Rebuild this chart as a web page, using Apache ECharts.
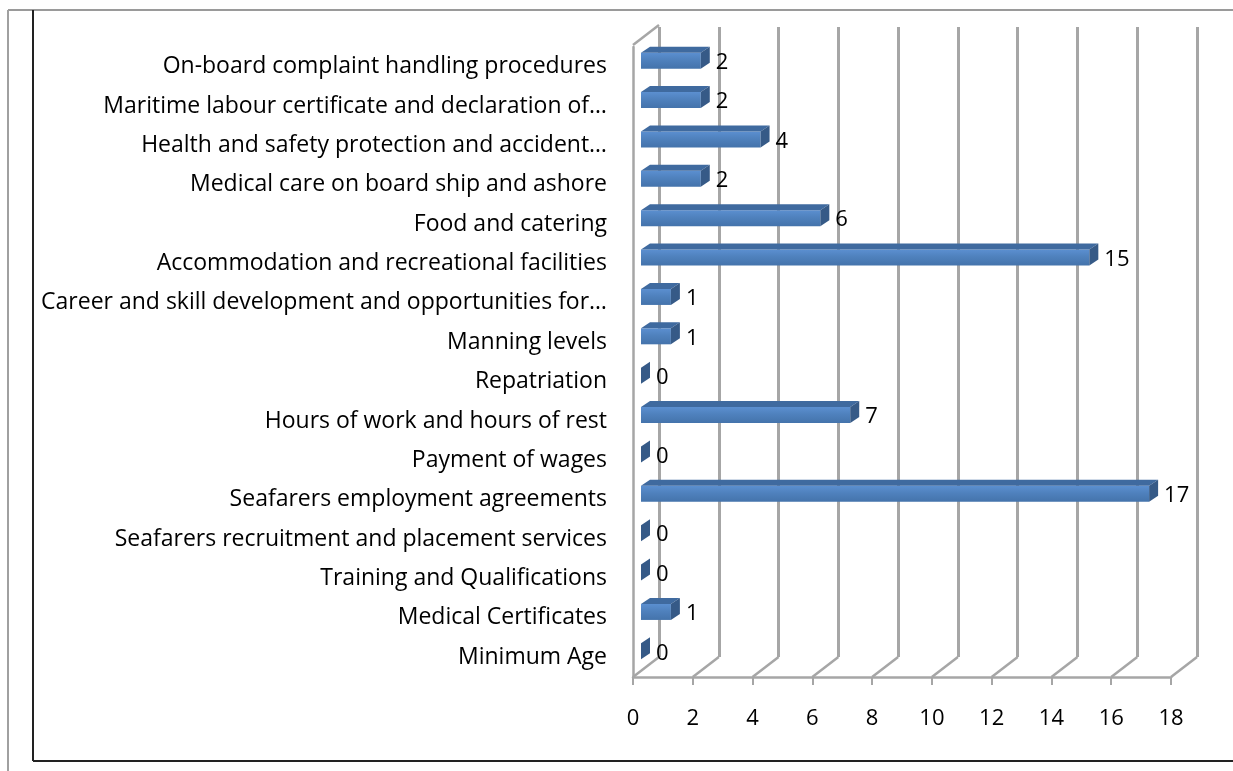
<!DOCTYPE html>
<html>
<head>
    <meta charset="UTF-8">
    <title>Complaints by category</title>
    <script src="https://cdn.jsdelivr.net/npm/echarts@6/dist/echarts.min.js"></script>
    <style>
        html, body { margin: 0; padding: 0; background: #fff; }
        #chart { width: 1233px; height: 771px; }
    </style>
</head>
<body>
<div id="chart"></div>
<script>
    // categories, top to bottom as in the picture
    var categories = [
        'On-board complaint handling procedures',
        'Maritime labour certificate and declaration of\u2026',
        'Health and safety protection and accident\u2026',
        'Medical care on board ship and ashore',
        'Food and catering',
        'Accommodation and recreational facilities',
        'Career and skill development and opportunities for\u2026',
        'Manning levels',
        'Repatriation',
        'Hours of work and hours of rest',
        'Payment of wages',
        'Seafarers employment agreements',
        'Seafarers recruitment and placement services',
        'Training and Qualifications',
        'Medical Certificates',
        'Minimum Age'
    ];
    var counts = [2, 2, 4, 2, 6, 15, 1, 1, 0, 7, 0, 17, 0, 0, 1, 0];
    var xTicks = [0, 2, 4, 6, 8, 10, 12, 14, 16, 18];

    var FONT = 'Open Sans';
    var GRID_COL = '#a6a6a6';

    // 3D look: wall depth and bar depth in px
    var WALL_DX = 26, WALL_DY = -20;
    var BAR_SHIFT_X = 8, BAR_SHIFT_Y = -6;
    var BAR_H = 16, BAR_DX = 9, BAR_DY = -6;

    function renderFloor(params, api) {
        var cs = params.coordSys;
        var p = api.coord([api.value(0), 0]);
        var yb = cs.y + cs.height;
        var items = [{
            type: 'line',
            shape: {x1: p[0], y1: yb, x2: p[0] + WALL_DX, y2: yb + WALL_DY},
            style: {stroke: GRID_COL, lineWidth: 2.5}
        }];
        if (api.value(0) === 0) {
            items.push({
                type: 'line',
                shape: {x1: p[0], y1: cs.y - 2, x2: p[0] + WALL_DX, y2: cs.y - 2 + WALL_DY},
                style: {stroke: GRID_COL, lineWidth: 2.5}
            });
        }
        return {type: 'group', children: items};
    }

    function renderBar(params, api) {
        var v = api.value(0), idx = api.value(1);
        var p0 = api.coord([0, idx]);
        var p1 = api.coord([v, idx]);
        var x0 = p0[0] + BAR_SHIFT_X, x1 = p1[0] + BAR_SHIFT_X;
        var yc = p0[1] + BAR_SHIFT_Y;
        var yt = yc - BAR_H / 2, yb = yc + BAR_H / 2;
        var kids = [];
        if (x1 > x0) {
            kids.push({
                type: 'rect',
                shape: {x: x0, y: yt, width: x1 - x0, height: BAR_H},
                style: {
                    fill: new echarts.graphic.LinearGradient(0, 0, 0, 1, [
                        {offset: 0, color: '#5b8fd0'},
                        {offset: 0.45, color: '#4f81bd'},
                        {offset: 1, color: '#4473ab'}
                    ])
                }
            });
            kids.push({
                type: 'polygon',
                shape: {points: [[x0, yt], [x1, yt], [x1 + BAR_DX, yt + BAR_DY], [x0 + BAR_DX, yt + BAR_DY]]},
                style: {fill: '#3f6a9f'}
            });
        }
        kids.push({
            type: 'polygon',
            shape: {points: [[x1, yt], [x1 + BAR_DX, yt + BAR_DY], [x1 + BAR_DX, yb + BAR_DY], [x1, yb]]},
            style: {fill: '#365a87'}
        });
        kids.push({
            type: 'text',
            x: x1 + BAR_DX + 6,
            y: yc + 2,
            style: {
                text: String(v), fill: '#000', font: '22px "' + FONT + '"',
                textAlign: 'left', textVerticalAlign: 'middle'
            }
        });
        return {type: 'group', children: kids};
    }

    var chart = echarts.init(document.getElementById('chart'), null, {renderer: 'canvas'});

    var option = {
        backgroundColor: '#fff',
        animation: false,
        textStyle: {fontFamily: FONT},
        graphic: [
            {type: 'line', shape: {x1: 8, y1: 10, x2: 1233, y2: 10}, style: {stroke: '#9a9a9a', lineWidth: 2}},
            {type: 'line', shape: {x1: 8, y1: 10, x2: 8, y2: 771}, style: {stroke: '#a0a0a0', lineWidth: 2}},
            {type: 'line', shape: {x1: 33, y1: 10, x2: 33, y2: 761}, style: {stroke: '#222', lineWidth: 2}},
            {type: 'line', shape: {x1: 33, y1: 761, x2: 1233, y2: 761}, style: {stroke: '#222', lineWidth: 2}}
        ],
        grid: [
            {left: 633, top: 47, width: 538, height: 630},
            {left: 659, top: 27, width: 538, height: 630}
        ],
        xAxis: [{
            gridIndex: 0, type: 'value', min: 0, max: 18, interval: 2,
            axisLine: {show: true, lineStyle: {color: GRID_COL, width: 2.5}},
            axisTick: {show: true, length: 8, lineStyle: {color: GRID_COL, width: 2}},
            axisLabel: {color: '#000', fontSize: 22, margin: 31, fontFamily: FONT},
            splitLine: {show: false}
        }, {
            gridIndex: 1, type: 'value', min: 0, max: 18, interval: 2,
            axisLine: {show: false}, axisTick: {show: false}, axisLabel: {show: false},
            splitLine: {show: true, lineStyle: {color: GRID_COL, width: 3}}
        }],
        yAxis: [{
            gridIndex: 0, type: 'category', data: categories, inverse: true,
            axisLine: {show: true, lineStyle: {color: GRID_COL, width: 2.5}},
            axisTick: {show: false},
            axisLabel: {color: '#000', fontSize: 23, margin: 26, fontFamily: FONT},
            splitLine: {show: false}
        }, {
            gridIndex: 1, type: 'value', min: 0, max: 1, show: false
        }],
        series: [{
            type: 'custom',
            xAxisIndex: 0, yAxisIndex: 0,
            data: xTicks.map(function (t) { return [t]; }),
            encode: {x: 0},
            renderItem: renderFloor,
            silent: true, z: 1
        }, {
            type: 'custom',
            xAxisIndex: 0, yAxisIndex: 0,
            data: counts.map(function (v, i) { return [v, i]; }),
            encode: {x: 0, y: 1},
            renderItem: renderBar,
            z: 5
        }]
    };
    chart.setOption(option);
</script>
</body>
</html>
